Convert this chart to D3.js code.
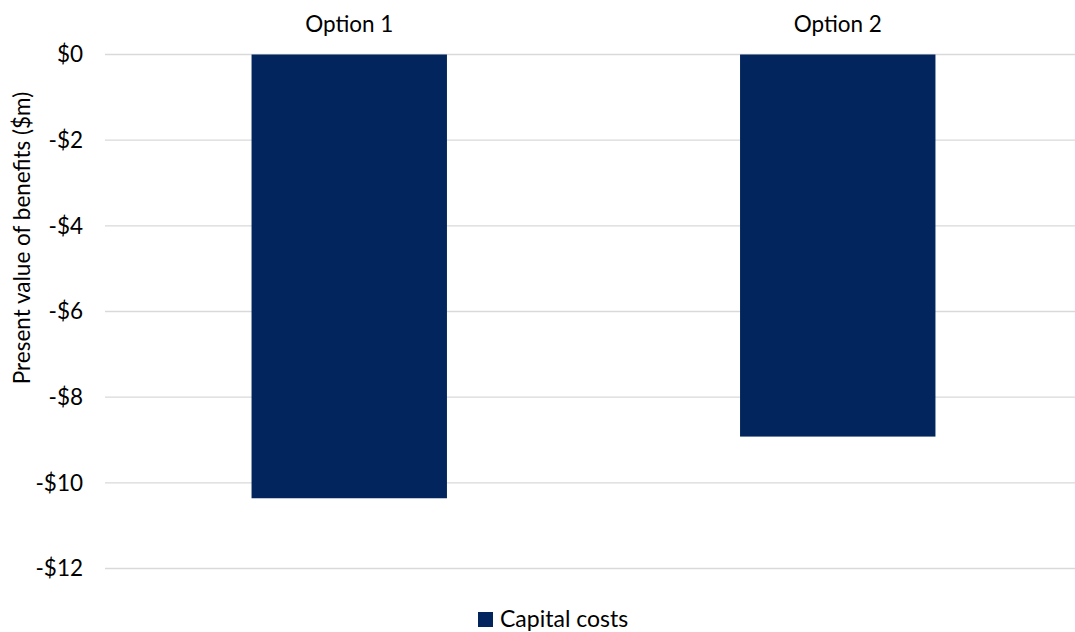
<!DOCTYPE html>
<html>
<head>
<meta charset="utf-8">
<script src="https://cdn.jsdelivr.net/npm/d3@7"></script>
<style>
  body { margin: 0; background: #fff; }
  svg { display: block; font-family: Lato, "Open Sans", sans-serif; }
</style>
</head>
<body>
<svg id="chart" width="1075" height="632"></svg>
<script>
const categories = ["Option 1", "Option 2"];
const capitalCosts = [-10.36, -8.92];
const yTicks = [0, -2, -4, -6, -8, -10, -12];
const seriesName = "Capital costs";

const width = 1075, height = 632;
const margin = { top: 54.5, right: -7, bottom: 63.5, left: 105 };
const barColor = "#01255c";

const svg = d3.select("#chart");

const x = d3.scaleBand()
  .domain(categories)
  .range([margin.left, width - margin.right])
  .paddingInner(0.6)
  .paddingOuter(0.3);

const y = d3.scaleLinear()
  .domain([0, -12])
  .range([margin.top, height - margin.bottom]);

// gridlines
svg.append("g")
  .selectAll("line")
  .data(yTicks)
  .join("line")
  .attr("x1", margin.left)
  .attr("x2", width - margin.right)
  .attr("y1", d => y(d))
  .attr("y2", d => y(d))
  .attr("stroke", "#d9d9d9")
  .attr("stroke-width", 1.3);

// y axis labels
const yAxis = d3.axisLeft(y)
  .tickValues(yTicks)
  .tickSize(0)
  .tickPadding(22)
  .tickFormat(d => (d < 0 ? "-$" : "$") + Math.abs(d));

svg.append("g")
  .attr("transform", `translate(${margin.left},0)`)
  .call(yAxis)
  .call(g => g.select(".domain").remove())
  .selectAll("text")
  .attr("font-family", "Lato, sans-serif")
  .attr("font-size", 22.5)
  .attr("fill", "#000");

// bars
svg.append("g")
  .selectAll("rect")
  .data(categories)
  .join("rect")
  .attr("x", d => x(d))
  .attr("width", x.bandwidth())
  .attr("y", (d, i) => y(Math.max(0, capitalCosts[i])))
  .attr("height", (d, i) => Math.abs(y(capitalCosts[i]) - y(0)))
  .attr("fill", barColor);

// category labels on top
const xAxis = d3.axisTop(x).tickSize(0).tickPadding(23);
svg.append("g")
  .attr("transform", `translate(0,${margin.top})`)
  .call(xAxis)
  .call(g => g.select(".domain").remove())
  .selectAll("text")
  .attr("font-family", "Lato, sans-serif")
  .attr("font-size", 22.5)
  .attr("fill", "#000");

// y axis title
svg.append("text")
  .attr("transform", "translate(30,238) rotate(-90)")
  .attr("text-anchor", "middle")
  .attr("font-size", 22.5)
  .attr("fill", "#000")
  .text("Present value of benefits ($m)");

// legend
const legend = svg.append("g").attr("transform", "translate(478,612)");
legend.append("rect")
  .attr("width", 15)
  .attr("height", 15)
  .attr("fill", barColor);
legend.append("text")
  .attr("x", 22)
  .attr("y", 14.5)
  .attr("font-size", 23)
  .attr("fill", "#000")
  .text(seriesName);
</script>
</body>
</html>
